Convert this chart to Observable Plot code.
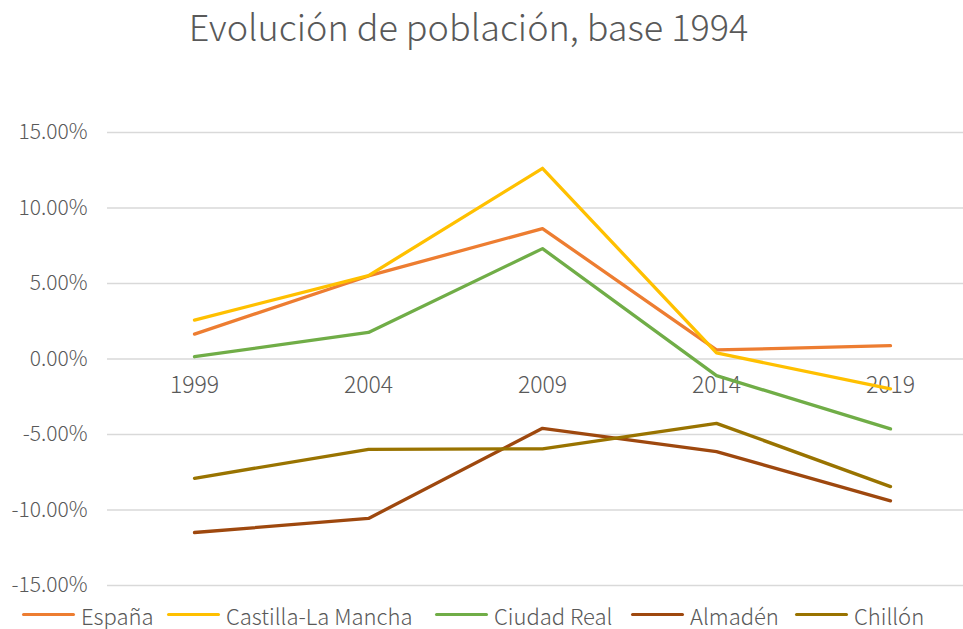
<!DOCTYPE html>
<html>
<head>
<meta charset="utf-8">
<script src="https://cdn.jsdelivr.net/npm/d3@7"></script>
<script src="https://cdn.jsdelivr.net/npm/@observablehq/plot@0.6"></script>
<style>
  html, body { margin: 0; padding: 0; background: #fff; }
  body { width: 963px; height: 629px; font-family: "Noto Sans CJK SC", "Noto Sans", sans-serif; color: #595959; }
  #title { width: 937px; height: 70px; font-size: 36px; font-weight: 300; text-align: center; line-height: 50px; white-space: nowrap; }
  #legend { height: 29px; position: relative; font-size: 22px; font-weight: 300; }
  .item { position: absolute; top: 0; display: flex; align-items: center; height: 29px; white-space: nowrap; }
  .sw { width: 53px; height: 3px; border-radius: 2px; margin-right: 6px; }
  svg { display: block; }
</style>
</head>
<body>
<div id="title">Evolución de población, base 1994</div>
<div id="chart"></div>
<div id="legend"></div>
<script>
const years = ["1999", "2004", "2009", "2014", "2019"];
const seriesNames = ["España", "Castilla-La Mancha", "Ciudad Real", "Almadén", "Chillón"];
const seriesColors = ["#ED7D31", "#FFC000", "#70AD47", "#9E480E", "#997300"];
const espana = [1.65, 5.5, 8.64, 0.6, 0.88];
const castillaLaMancha = [2.58, 5.52, 12.63, 0.4, -1.98];
const ciudadReal = [0.15, 1.76, 7.31, -1.1, -4.63];
const almaden = [-11.49, -10.56, -4.59, -6.13, -9.39];
const chillon = [-7.9, -5.98, -5.95, -4.26, -8.45];
const yTicks = [-15, -10, -5, 0, 5, 10, 15];
const legendX = [22, 167, 435, 631, 795];

const allSeries = [espana, castillaLaMancha, ciudadReal, almaden, chillon];
const rows = [];
allSeries.forEach((vals, i) => vals.forEach((v, j) => rows.push({series: seriesNames[i], year: years[j], value: v})));

const chart = Plot.plot({
  width: 963,
  height: 530,
  marginTop: 62,
  marginBottom: 15,
  marginLeft: 107,
  marginRight: 0,
  style: {fontFamily: "'Noto Sans CJK SC', 'Noto Sans', sans-serif", fontSize: "21px", fontWeight: 300, color: "#595959", background: "#fff"},
  x: {type: "point", domain: years, padding: 0.5, range: [107, 977], axis: null},
  y: {domain: [-15, 15], ticks: yTicks},
  color: {domain: seriesNames, range: seriesColors},
  marks: [
    Plot.gridY(yTicks, {stroke: "#d9d9d9", strokeOpacity: 1, strokeWidth: 1.3}),
    Plot.axisY(yTicks, {tickSize: 0, tickPadding: 20, tickFormat: d => d.toFixed(2) + "%", fill: "#595959", label: null, fontSize: 21}),
    Plot.text(years, {x: d => d, y: () => 0, dy: 27, text: d => d, fill: "#595959", fontSize: 23}),
    Plot.line(rows, {x: "year", y: "value", z: "series", stroke: "series", strokeWidth: 3.3, strokeLinecap: "round", strokeLinejoin: "round"})
  ]
});
document.getElementById("chart").appendChild(chart);

const legend = document.getElementById("legend");
seriesNames.forEach((n, i) => {
  const it = document.createElement("div");
  it.className = "item";
  it.style.left = legendX[i] + "px";
  const sw = document.createElement("div");
  sw.className = "sw";
  sw.style.background = seriesColors[i];
  const t = document.createElement("span");
  t.textContent = n;
  it.appendChild(sw); it.appendChild(t);
  legend.appendChild(it);
});
</script>
</body>
</html>
